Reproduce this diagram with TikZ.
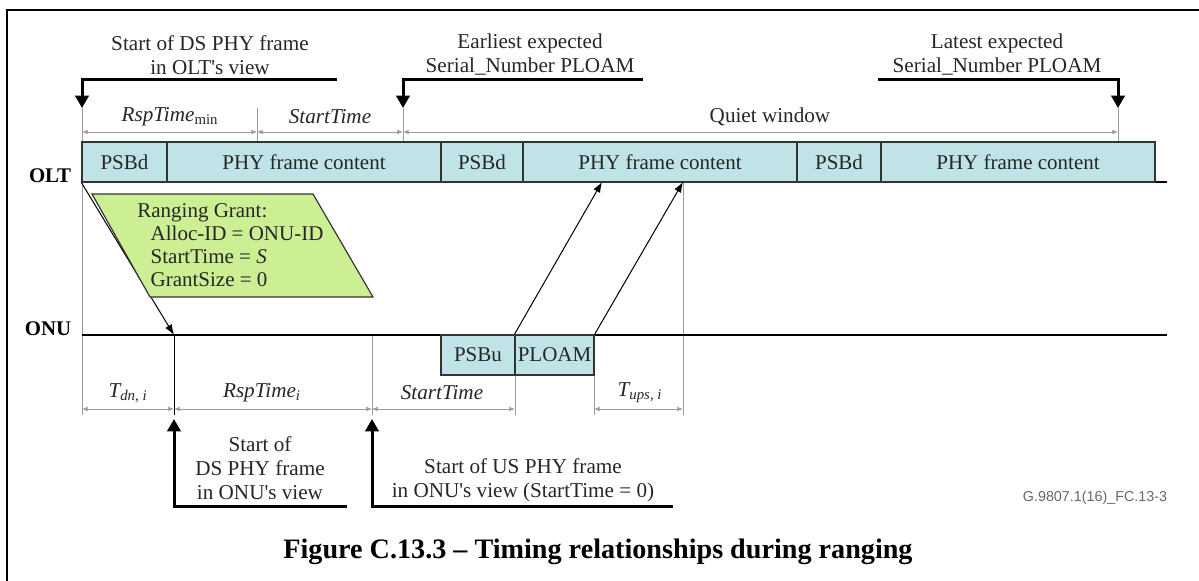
\documentclass[tikz,border=0pt]{standalone}
\usepackage{fontspec}
\setmainfont{Liberation Serif}
\newfontfamily\rgsans{Liberation Sans}
\usetikzlibrary{arrows.meta}
\definecolor{rgCyan}{HTML}{BFE3E6}
\definecolor{rgGreen}{HTML}{CBEF92}
\definecolor{rgEdge}{HTML}{333333}
\definecolor{rgGray}{HTML}{9C9C9C}
\definecolor{rgInk}{HTML}{262626}
\tikzset{
  rg frame/.style={draw=black, line width=1.5pt},
  rg base/.style={draw=black, line width=1.3pt},
  rg box/.style={draw=rgEdge, fill=rgCyan, line width=0.7pt, inner sep=0pt, text depth=0pt,
    minimum height=24pt, text=rgInk, font=\fontsize{12.6}{14}\selectfont},
  rg grant/.style={draw=rgEdge, fill=rgGreen, line width=0.7pt},
  rg guide/.style={draw=rgGray, line width=0.5pt},
  rg dim/.style={draw=rgGray, line width=0.5pt, {Latex[length=1.2mm,width=1mm]}-{Latex[length=1.2mm,width=1mm]}},
  rg pointer/.style={draw=black, line width=1.8pt, -{Triangle[length=2.6mm,width=2.8mm]}},
  rg signal/.style={draw=black, line width=0.6pt, -{Latex[length=2.2mm,width=1.6mm]}},
  rg text/.style={text=rgInk, font=\fontsize{12.7}{14.4}\selectfont, align=center},
  rg ital/.style={text=rgInk, font=\fontsize{12.7}{14.4}\selectfont\itshape},
  rg side/.style={text=black, font=\fontsize{12.5}{14}\selectfont\bfseries, anchor=base east},
}

\begin{document}
\begin{tikzpicture}[x=0.6pt,y=-0.6pt]
  \useasboundingbox (0,0) rectangle (1199,581);
  % frame
  \draw[rg frame] (7,581) -- (7,10) -- (1199,10);

  % guides
  \draw[rg guide] (82,108) -- (82,415);
  \foreach \x in {257,403,1118}
    \draw[rg guide] (\x,108) -- (\x,142);
  \draw[rg guide] (683,182) -- (683,415);
  \draw[rg guide] (372,335) -- (372,415);
  \foreach \x in {515,594}
    \draw[rg guide] (\x,375) -- (\x,415);
  \draw[draw=black, line width=0.6pt] (174,335) -- (174,415);

  % OLT and ONU lines
  \draw[rg base] (82,182) -- (1167,182);
  \draw[rg base] (82,335) -- (1167,335);
  \node[rg side] (olt) at (77,182) {OLT};
  \node[rg side] (onu) at (77,335) {ONU};

  % downstream frames
  \foreach \xa/\xb/\txt/\nm in {82/167/PSBd/da, 167/441/PHY frame content/fa,
      441/523/PSBd/db, 523/797/PHY frame content/fb,
      797/881/PSBd/dc, 881/1155/PHY frame content/fc}
    \node[rg box, minimum width={(\xb-\xa)*0.6pt}] (\nm) at ({(\xa+\xb)/2},162) {\txt};

  % upstream burst
  \node[rg box, minimum width=44.4pt] (psbu) at (478,355) {PSBu};
  \node[rg box, minimum width=47.4pt] (ploam) at (554.5,355) {PLOAM};

  % ranging grant
  \coordinate (onuds) at (174,335);
  \draw[rg signal] (da.south west) -- (onuds);
  \draw[rg grant] (92,194) -- (313,194) -- (373,297) -- (150,297) -- cycle;
  \node[text=rgInk, font=\fontsize{12.6}{13.8}\selectfont, align=left, anchor=north west, inner sep=0pt] (grant) at (137,203)
    {Ranging Grant:\\ \hspace*{8pt}Alloc-ID = ONU-ID\\ \hspace*{8pt}StartTime = \textit{S}\\ \hspace*{8pt}GrantSize = 0};

  % burst arrives at OLT
  \coordinate (arrA) at (602,182);
  \coordinate (arrB) at (683,182);
  \draw[rg signal] (ploam.north west) -- (arrA);
  \draw[rg signal] (ploam.north east) -- (arrB);

  % dimensions above OLT
  \draw[rg dim] (82,132) -- (257,132);
  \draw[rg dim] (257,132) -- (403,132);
  \draw[rg dim] (403,132) -- (1118,132);
  \node[rg ital] (rspmin) at (170,117) {RspTime\textsubscript{\upshape min}};
  \node[rg ital] (stA) at (330,117) {StartTime};
  \node[rg text] (quiet) at (770,117) {Quiet window};

  % dimensions below ONU
  \draw[rg dim] (82,409) -- (174,409);
  \draw[rg dim] (174,409) -- (372,409);
  \draw[rg dim] (372,409) -- (515,409);
  \draw[rg dim] (594,409) -- (683,409);
  \node[rg ital] (tdn) at (128,393) {T\textsubscript{dn, i}};
  \node[rg ital] (rspi) at (262,393) {RspTime\textsubscript{i}};
  \node[rg ital] (stB) at (442,393) {StartTime};
  \node[rg ital] (tup) at (640,393) {T\textsubscript{ups, i}};

  % pointers, top
  \node[rg text] (dsolt) at (210,55) {Start of DS PHY frame\\in OLT\textquotesingle s view};
  \node[rg text] (early) at (530,55) {Earliest expected\\Serial\_Number PLOAM};
  \node[rg text] (late) at (997,55) {Latest expected\\Serial\_Number PLOAM};
  \draw[rg pointer] (337,80) -- (82,80) -- (82,108);
  \draw[rg pointer] (643,80) -- (403,80) -- (403,108);
  \draw[rg pointer] (878,80) -- (1118,80) -- (1118,108);

  % pointers, bottom
  \node[rg text] (dsonu) at (260,468) {Start of\\DS PHY frame\\in ONU\textquotesingle s view};
  \node[rg text] (usonu) at (523,480) {Start of US PHY frame\\in ONU\textquotesingle s view (StartTime = 0)};
  \draw[rg pointer] (347,506) -- (174,506) -- (174,419);
  \draw[rg pointer] (673,506) -- (372,506) -- (372,419);

  % caption
  \node[text=rgInk!70, font=\rgsans\fontsize{8.6}{10}\selectfont] (code) at (1095,498) {G.9807.1(16)\_FC.13-3};
  \node[text=black, font=\fontsize{16.9}{20}\selectfont\bfseries] (caption) at (598,552)
    {Figure C.13.3 \textendash{} Timing relationships during ranging};
\end{tikzpicture}
\end{document}
